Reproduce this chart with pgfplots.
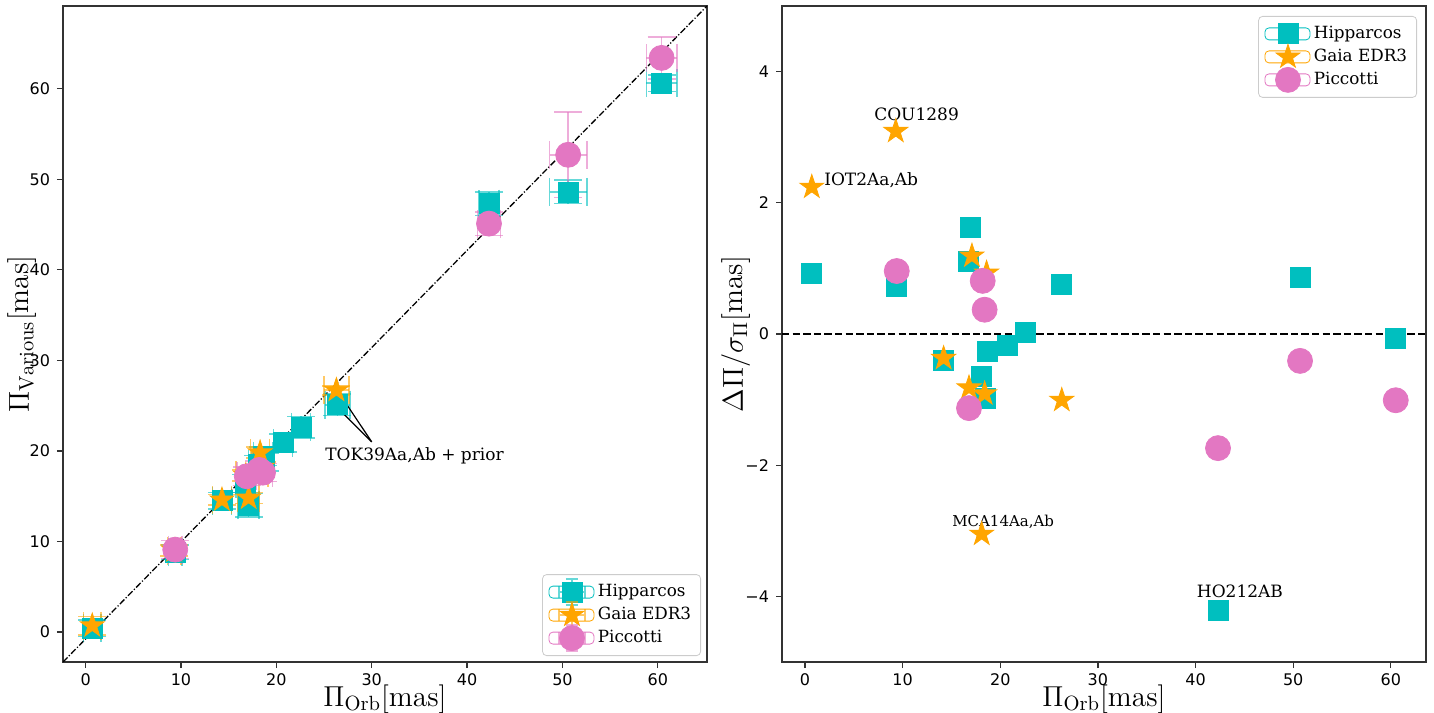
\documentclass[border=0pt]{standalone}
\usepackage{pgfplots}
\pgfplotsset{compat=1.18}
\usepackage{pgfplotstable}
\usepackage{fontspec}
\newfontfamily\dvs{DejaVu Sans}
\newfontfamily\dvserif{DejaVu Serif}
\definecolor{hipc}{HTML}{00BFBF}
\definecolor{gaiac}{HTML}{FFA500}
\definecolor{picc}{HTML}{E377C2}

\pgfdeclareplotmark{fstar}{%
  \pgfpathmoveto{\pgfpointpolar{90}{\pgfplotmarksize}}%
  \pgfpathlineto{\pgfpointpolar{126}{0.382*\pgfplotmarksize}}%
  \pgfpathlineto{\pgfpointpolar{162}{\pgfplotmarksize}}%
  \pgfpathlineto{\pgfpointpolar{198}{0.382*\pgfplotmarksize}}%
  \pgfpathlineto{\pgfpointpolar{234}{\pgfplotmarksize}}%
  \pgfpathlineto{\pgfpointpolar{270}{0.382*\pgfplotmarksize}}%
  \pgfpathlineto{\pgfpointpolar{306}{\pgfplotmarksize}}%
  \pgfpathlineto{\pgfpointpolar{342}{0.382*\pgfplotmarksize}}%
  \pgfpathlineto{\pgfpointpolar{18}{\pgfplotmarksize}}%
  \pgfpathlineto{\pgfpointpolar{54}{0.382*\pgfplotmarksize}}%
  \pgfpathclose
  \pgfusepathqfillstroke
}

\newcommand\legcross[1]{\draw[overlay,sharp corners,#1,opacity=0.6,line width=0.75pt] (5pt,0pt)--(18pt,0pt) (11.5pt,-6.5pt)--(11.5pt,6.5pt) (5pt,-3pt)--(5pt,3pt) (18pt,-3pt)--(18pt,3pt) (8.5pt,-6.5pt)--(14.5pt,-6.5pt) (8.5pt,6.5pt)--(14.5pt,6.5pt);}
\newcommand\legmark[3]{\path (0pt,-3pt) rectangle (22.5pt,3pt); \path[overlay,sharp corners] plot[mark=#1, mark size=#2, mark options={draw=#3,fill=#3,sharp corners}] coordinates {(11.5pt,0pt)};}

\pgfplotsset{
  legHL/.style={legend image code/.code={\legcross{hipc}\legmark{square*}{5pt}{hipc}}},
  legGL/.style={legend image code/.code={\legcross{gaiac}\legmark{fstar}{6.3pt}{gaiac}}},
  legPL/.style={legend image code/.code={\legcross{picc}\legmark{*}{6.25pt}{picc}}},
  legHR/.style={legend image code/.code={\legmark{square*}{5pt}{hipc}}},
  legGR/.style={legend image code/.code={\legmark{fstar}{6.3pt}{gaiac}}},
  legPR/.style={legend image code/.code={\legmark{*}{6.25pt}{picc}}},
  errs/.style={error bars/.cd, x dir=both, x explicit, y dir=both, y explicit,
    error bar style={line width=0.8pt, #1, opacity=0.6},
    error mark options={rotate=90, line width=0.8pt, #1, opacity=0.6, mark size=7pt}},
  base/.style={scale only axis, width=322pt, height=328pt,
    tick pos=left, tick align=outside, major tick length=3pt,
    axis line style={line width=0.6pt, black!80},
    tick style={line width=0.6pt, black!80},
    ticklabel style={font=\dvs\fontsize{8}{9.5}\selectfont},
    xticklabel style={inner sep=0.5pt, yshift=-2.1pt},
    /pgf/number format/assume math mode=true,
    label style={font=\fontsize{14.7}{17}\selectfont},
    legend style={draw=black!20, rounded corners=2pt, fill=white,
      font=\dvserif\fontsize{8.4}{10}\selectfont, inner sep=3pt,
      nodes={inner sep=1.75pt, text height=6.2pt, text depth=1.8pt},
      cells={anchor=west}},
  },
}

\pgfplotstableread{
x y ex ey
0.7 0.4 0.9 0.9
9.4 8.8 0.7 0.8
14.3 14.5 1.0 0.9
17.1 14.0 1.1 1.3
16.8 16.4 1.0 1.0
18.1 18.5 1.0 1.0
18.6 19.4 1.0 1.0
18.8 18.8 1.0 1.0
20.7 20.9 1.0 1.0
22.6 22.6 1.0 1.2
26.4 25.1 1.3 1.2
42.3 47.3 1.05 1.3
50.6 48.6 1.95 1.3
60.4 60.6 1.6 0.9
}\hipL
\pgfplotstableread{
x y ex ey
0.7 0.7 0.9 1.0
9.3 9.0 0.7 0.6
14.3 14.6 1.0 0.6
16.8 17.3 1.0 0.6
17.1 14.8 1.1 0.6
18.1 17.6 1.0 0.6
18.3 19.8 1.0 0.6
18.5 18.2 1.0 0.6
26.3 26.7 1.3 0.5
}\gaiaL
\pgfplotstableread{
x y ex ey
9.4 9.1 0.7 1.0
16.9 17.2 1.0 1.0
18.2 17.9 1.0 1.0
18.6 17.6 1.0 1.0
42.3 45.1 1.2 1.3
50.6 52.7 1.95 4.7
60.4 63.4 1.6 2.3
}\picL
\pgfplotstableread{
x y
0.7 0.93
9.4 0.73
16.9 1.62
16.7 1.10
14.2 -0.41
18.1 -0.64
18.5 -0.98
18.7 -0.27
20.7 -0.17
22.6 0.03
26.3 0.75
50.7 0.87
60.5 -0.06
42.3 -4.22
}\hipR
\pgfplotstableread{
x y
0.7 2.24
9.3 3.09
17.1 1.19
18.6 0.93
14.2 -0.37
16.8 -0.82
18.4 -0.91
18.1 -3.05
26.3 -1.01
}\gaiaR
\pgfplotstableread{
x y
9.4 0.96
18.2 0.81
18.4 0.37
16.8 -1.13
42.3 -1.74
50.7 -0.41
60.5 -1.01
}\picR

\begin{document}
\begin{tikzpicture}
\begin{axis}[base, at={(0pt,0pt)}, anchor=south west,
  xmin=-2.37, xmax=65.16, ymin=-3.31, ymax=69.13,
  xtick={0,10,...,60}, ytick={0,10,...,60},
  xlabel={$\Pi_{\mathrm{Orb}}[\mathrm{mas}]$},
  ylabel={$\Pi_{\mathrm{Various}}[\mathrm{mas}]$},
  xlabel style={at={(axis description cs:0.5,-0.034)}, anchor=north, inner sep=0pt},
  ylabel style={at={(axis description cs:-0.064,0.5)}, anchor=center, inner sep=0pt},
  legend style={at={(1,0)}, anchor=south east, xshift=-3pt, yshift=3pt},
]
\draw[black, line width=0.65pt, dash pattern=on 3.2pt off 1pt on 0.6pt off 1pt] (rel axis cs:0,0) -- (rel axis cs:1,1);
\addplot[only marks, mark=square*, mark size=5pt, color=hipc, mark options={draw=hipc, fill=hipc}, legHL, errs=hipc]
  table[x=x, y=y, x error=ex, y error=ey] {\hipL};
\addlegendentry{Hipparcos}
\addplot[only marks, mark=fstar, mark size=6.3pt, color=gaiac, mark options={draw=gaiac, fill=gaiac}, legGL, errs=gaiac]
  table[x=x, y=y, x error=ex, y error=ey] {\gaiaL};
\addlegendentry{Gaia EDR3}
\addplot[only marks, mark=*, mark size=6.25pt, color=picc, mark options={draw=picc, fill=picc}, legPL, errs=picc]
  table[x=x, y=y, x error=ex, y error=ey] {\picL};
\addlegendentry{Piccotti}
\draw[black, line width=0.6pt] (axis cs:30.0,21.0) -- (axis cs:26.85,24.3);
\draw[black, line width=0.6pt] (axis cs:30.0,21.0) -- (axis cs:27.4,25.1);
\node[font=\dvserif\fontsize{8.5}{10}\selectfont, anchor=base west, inner sep=0pt] at (axis cs:25.1,18.9) {TOK39Aa,Ab + prior};
\end{axis}

\begin{axis}[base, at={(359.5pt,0pt)}, anchor=south west,
  xmin=-2.35, xmax=63.6, ymin=-5, ymax=5,
  xtick={0,10,...,60}, ytick={-4,-2,0,2,4},
  yticklabels={−4,−2,0,2,4},
  xlabel={$\Pi_{\mathrm{Orb}}[\mathrm{mas}]$},
  ylabel={$\Delta\Pi/\sigma_{\Pi}[\mathrm{mas}]$},
  xlabel style={at={(axis description cs:0.5,-0.034)}, anchor=north, inner sep=0pt},
  ylabel style={at={(axis description cs:-0.072,0.5)}, anchor=center, inner sep=0pt},
  legend style={at={(1,1)}, anchor=north east, xshift=-4.5pt, yshift=-5pt},
]
\draw[black, line width=0.65pt, dash pattern=on 3.7pt off 1.6pt] (axis cs:-2.35,0) -- (axis cs:63.6,0);
\addplot[only marks, mark=square*, mark size=5pt, color=hipc, mark options={draw=hipc, fill=hipc}, legHR]
  table[x=x, y=y] {\hipR};
\addlegendentry{Hipparcos}
\addplot[only marks, mark=fstar, mark size=6.3pt, color=gaiac, mark options={draw=gaiac, fill=gaiac}, legGR]
  table[x=x, y=y] {\gaiaR};
\addlegendentry{Gaia EDR3}
\addplot[only marks, mark=*, mark size=6.25pt, color=picc, mark options={draw=picc, fill=picc}, legPR]
  table[x=x, y=y] {\picR};
\addlegendentry{Piccotti}
\node[font=\dvserif\fontsize{8.5}{10}\selectfont, anchor=base west, inner sep=0pt] at (axis cs:7.06,3.25) {COU1289};
\node[font=\dvserif\fontsize{8.5}{10}\selectfont, anchor=base west, inner sep=0pt] at (axis cs:1.94,2.26) {IOT2Aa,Ab};
\node[font=\dvserif\fontsize{7.5}{9}\selectfont, anchor=base west, inner sep=0pt] at (axis cs:15.05,-2.93) {MCA14Aa,Ab};
\node[font=\dvserif\fontsize{8.5}{10}\selectfont, anchor=base west, inner sep=0pt] at (axis cs:40.1,-4.02) {HO212AB};
\end{axis}
\pgfresetboundingbox
\useasboundingbox (-31.5pt,-25pt) rectangle (685.5pt,331pt);
\end{tikzpicture}
\end{document}
